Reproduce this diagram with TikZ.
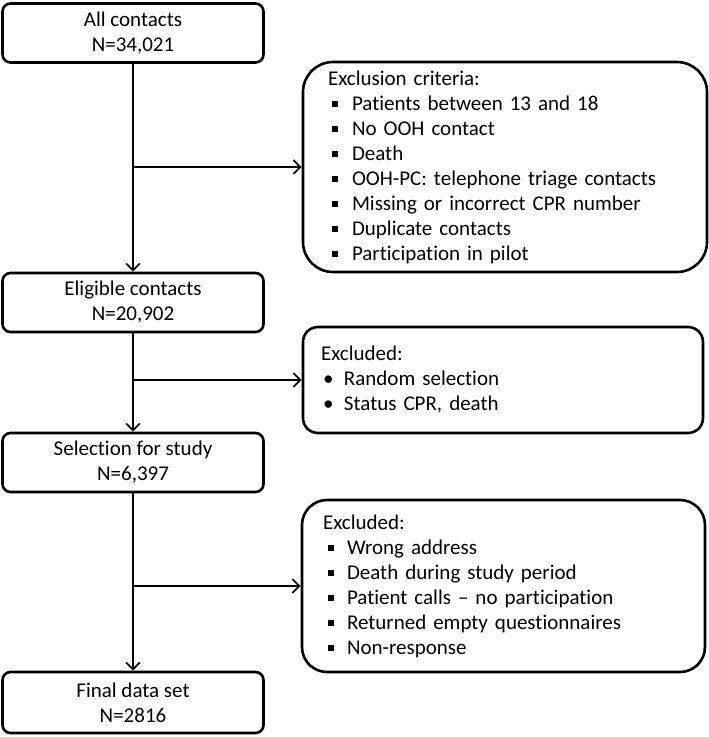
\documentclass[tikz,border=0pt]{standalone}
\usepackage{fontspec}
\setmainfont{Carlito}[Ligatures={TeX,NoCommon}]
\usetikzlibrary{positioning, arrows.meta}

% bullets for the exclusion lists
\newcommand{\sqitem}[2]{\hspace*{#1}\makebox[#2][l]{\rule[3.5pt]{5.5pt}{5.5pt}}}
\newcommand{\rditem}[2]{\hspace*{#1}\makebox[#2][l]{•}}

\begin{document}
\begin{tikzpicture}[x=1pt, y=-1pt, font=\fontsize{21}{25}\selectfont,
   stagebox/.style={draw, line width=2.6pt, rounded corners=8pt, minimum width=261pt,
      minimum height=59pt, align=center, inner sep=0pt},
   exclbox/.style={draw, line width=2.6pt, align=left, inner ysep=0pt},
   flow/.style={line width=1.8pt, -{Straight Barb[length=7pt,width=14pt,line width=1.8pt]}}]
   \useasboundingbox (0,0) rectangle (709,737);

   % Main stages
   \node[stagebox] (all) at (133,33) {All contacts\\N=34,021};
   \node[stagebox] (eligible) at (133,302.5) {Eligible contacts\\N=20,902};
   \node[stagebox] (selection) at (133,462.5) {Selection for study\\N=6,397};
   \node[stagebox, minimum height=61pt] (final) at (133,702.5) {Final data set\\N=2816};

   % Exclusion boxes
   \node[exclbox, rounded corners=30pt, minimum height=210pt, text width=354pt, inner xsep=25pt]
      (criteria) at (505,167) {Exclusion criteria:\\
      \sqitem{4pt}{20pt}Patients between 13 and 18\\
      \sqitem{4pt}{20pt}No OOH contact\\
      \sqitem{4pt}{20pt}Death\\
      \sqitem{4pt}{20pt}OOH-PC: telephone triage contacts\\
      \sqitem{4pt}{20pt}Missing or incorrect CPR number\\
      \sqitem{4pt}{20pt}Duplicate contacts\\
      \sqitem{4pt}{20pt}Participation in pilot};
   \node[exclbox, rounded corners=15pt, minimum height=106pt, text width=364pt, inner xsep=18pt]
      (excl1) at (503,380) {Excluded:\\
      \rditem{2pt}{21pt}Random selection\\
      \rditem{2pt}{21pt}Status CPR, death};
   \node[exclbox, rounded corners=25pt, minimum height=172pt, text width=361pt, inner xsep=21pt]
      (excl2) at (503.5,586) {Excluded:\\
      \sqitem{5pt}{19pt}Wrong address\\
      \sqitem{5pt}{19pt}Death during study period\\
      \sqitem{5pt}{19pt}Patient calls – no participation\\
      \sqitem{5pt}{19pt}Returned empty questionnaires\\
      \sqitem{5pt}{19pt}Non-response};

   % Branch points
   \coordinate (b1) at (all.south |- criteria.west);
   \coordinate (b2) at (eligible.south |- excl1.west);
   \coordinate (b3) at (selection.south |- excl2.west);

   % Transitions
   \draw[flow] (all) -- (eligible);
   \draw[flow] (eligible) -- (selection);
   \draw[flow] (selection) -- (final);
   \draw[flow] (b1) -- (criteria.west);
   \draw[flow] (b2) -- (excl1.west);
   \draw[flow] (b3) -- (excl2.west);
\end{tikzpicture}
\end{document}
